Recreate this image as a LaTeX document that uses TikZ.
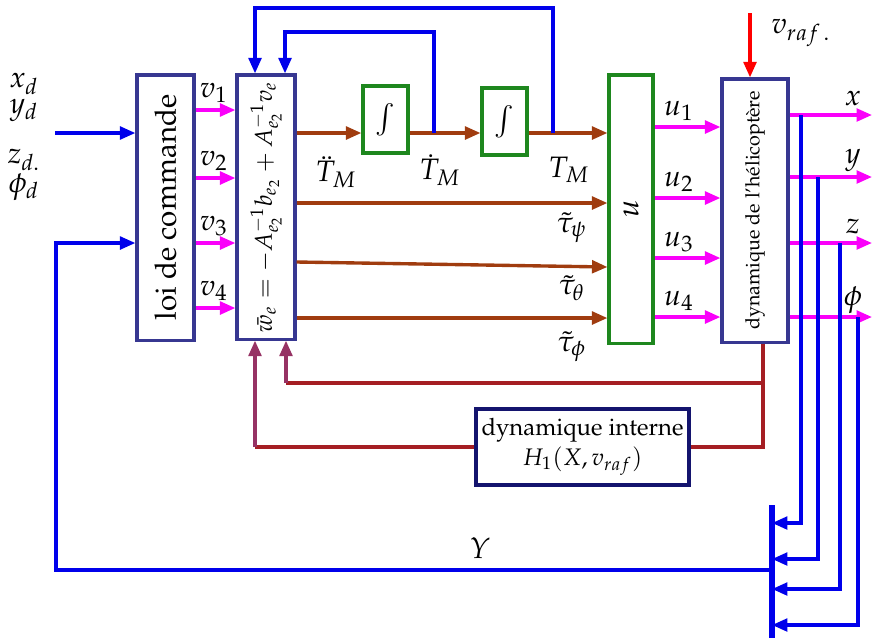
\documentclass[tikz,border=0pt]{standalone}
\usepackage[T1]{fontenc}
\usepackage{mathpazo}
\usepackage{amsmath}
\usepackage{graphicx}
\usetikzlibrary{arrows.meta}

\definecolor{bleu}{RGB}{0,0,235}
\definecolor{mag}{RGB}{250,0,250}
\definecolor{brun}{RGB}{160,60,15}
\definecolor{rougef}{RGB}{165,30,35}
\definecolor{violet}{RGB}{150,50,100}
\definecolor{cadre}{RGB}{55,55,145}
\definecolor{marine}{RGB}{20,20,110}
\definecolor{vert}{RGB}{30,135,30}

\tikzset{
  bloc/.style={draw=cadre, line width=1.1pt, fill=white, inner sep=0pt},
  integ/.style={draw=vert, line width=1.1pt, inner sep=0pt, minimum width=0.5625cm, minimum height=0.8375cm},
  lab/.style={inner sep=1pt, font=\fontsize{10.5}{12}\selectfont},
  lbleu/.style={draw=bleu, line width=1.2pt},
  lmag/.style={draw=mag, line width=1.2pt},
  lbrun/.style={draw=brun, line width=1.2pt},
  lrouge/.style={draw=rougef, line width=1.2pt},
  lviolet/.style={draw=violet, line width=1.2pt},
}

\begin{document}
\begin{tikzpicture}[x=0.0125cm, y=-0.0125cm, >={Triangle[length=5.5pt,width=4.5pt]}]
  \useasboundingbox (0,0) rectangle (872,642);
  % blocs
  \node[bloc, minimum width=0.7125cm, minimum height=3.3125cm] (loi) at (165.5,207.5)
    {\rotatebox{90}{\fontsize{10.5}{12}\selectfont loi de commande}};
  \node[bloc, minimum width=0.725cm, minimum height=3.3cm] (we) at (266,207)
    {\rotatebox{90}{\fontsize{8.6}{10}\selectfont $\bar{w}_e=-A_{e_2}^{-1}b_{e_2}+A_{e_2}^{-1}v_e$}};
  \node[integ] (int1) at (385.5,119.5) {$\int$};
  \node[integ] (int2) at (504.5,121.5) {$\int$};
  \node[bloc, draw=vert, minimum width=0.55cm, minimum height=3.35cm] (ubox) at (631,209)
    {\rotatebox{90}{\fontsize{11}{12}\selectfont $u$}};
  \node[bloc, minimum width=0.825cm, minimum height=3.2875cm] (heli) at (755,210.5)
    {\rotatebox{90}{\fontsize{7}{8}\selectfont dynamique de l'h\'elicopt\`ere}};
  \node[bloc, draw=marine, minimum width=2.6625cm, minimum height=0.95cm, align=center,
    font=\fontsize{8.5}{10.5}\selectfont] (dint) at (582.5,447)
    {dynamique interne\\$H_1(X,v_{raf})$};

  % consignes
  \coordinate (ref) at (55,133);
  \draw[lbleu,->] (ref) -- (ref -| loi.west);
  \node[lab] (xd) at (24,84) {$x_d$};
  \node[lab] (yd) at (24,110) {$y_d$};
  \node[lab] (zd) at (24,160) {$z_{d.}$};
  \node[lab] (phid) at (24,187) {$\phi_d$};

  % commandes v
  \foreach \y/\i in {110/1,178/2,243/3,308/4}{
    \draw[lmag,->] (loi.east |- 0,\y) -- (we.west |- 0,\y);
    \node[lab] (v\i) at (214,\y-17) {$v_\i$};
  }

  % chaine des integrateurs
  \coordinate (d1) at (434,133);
  \coordinate (d2) at (553,133);
  \draw[lbrun,->] (we.east |- d1) -- (int1.west |- d1);
  \draw[lbrun,->] (int1.east |- d1) -- (int2.west |- d1);
  \draw[lbrun,->] (int2.east |- d1) -- (ubox.west |- d1);
  \draw[lbrun,->] (we.east |- 0,203) -- (ubox.west |- 0,203);
  \draw[lbrun,->] (we.east |- 0,262) -- (ubox.west |- 0,267);
  \draw[lbrun,->] (we.east |- 0,318) -- (ubox.west |- 0,318);
  \node[lab] (tm2) at (336,172) {$\ddot{T}_M$};
  \node[lab] (tm1) at (440,170) {$\dot{T}_M$};
  \node[lab] (tm0) at (569,170) {$T_M$};
  \node[lab] (tpsi) at (572,228) {$\tilde{\tau}_\psi$};
  \node[lab] (ttheta) at (572,288) {$\tilde{\tau}_\theta$};
  \node[lab] (tphi) at (572,347) {$\tilde{\tau}_\phi$};

  % retours du haut
  \draw[lbleu,->] (d1) |- (285,32) -- (we.north -| 285,0);
  \draw[lbleu,->] (d2) |- (255,8) -- (we.north -| 255,0);

  % commandes u
  \foreach \y/\i in {127/1,198/2,258/3,317/4}{
    \draw[lmag,->] (ubox.east |- 0,\y) -- (heli.west |- 0,\y);
    \node[lab] (u\i) at (679,\y-16) {$u_\i$};
  }

  % perturbation
  \coordinate (raf) at (750,13);
  \draw[draw=red, line width=1.2pt,->] (raf) -- (raf |- heli.north);
  \node[lab] (vraf) at (801,33) {$v_{raf\,.}$};

  % sorties
  \coordinate (bus1) at (772,505);
  \coordinate (bus2) at (772,638);
  \foreach \y/\t in {115/x,177/y,243/z,317/\phi}{
    \draw[lmag,->] (heli.east |- 0,\y) -- (872,\y);
    \node[lab] at (853,\y-17) {$\t$};
  }
  \foreach \x/\y/\yb in {801/115/523,818/177/559,840/243/589,858/317/625}
    \draw[lbleu,->] (\x,\y) |- (bus1 |- 0,\yb);
  \draw[draw=bleu, line width=2pt] (bus1) -- (bus2);

  % retour Y
  \draw[lbleu,->] (bus1 |- 0,570) -| (56,243) -- (loi.west |- 0,243);
  \node[lab] (Y) at (480,548) {$Y$};

  % dynamique interne
  \coordinate (h1) at (763,383);
  \coordinate (h2) at (763,447);
  \draw[lrouge] (heli.south -| h1) -- (h2) -- (dint.east);
  \draw[lrouge] (h1) -- (286,383);
  \draw[lviolet,->] (286,383) -- (we.south -| 286,0);
  \draw[lrouge] (dint.west) -- (255,447);
  \draw[lviolet,->] (255,447) -- (we.south -| 255,0);
\end{tikzpicture}
\end{document}
